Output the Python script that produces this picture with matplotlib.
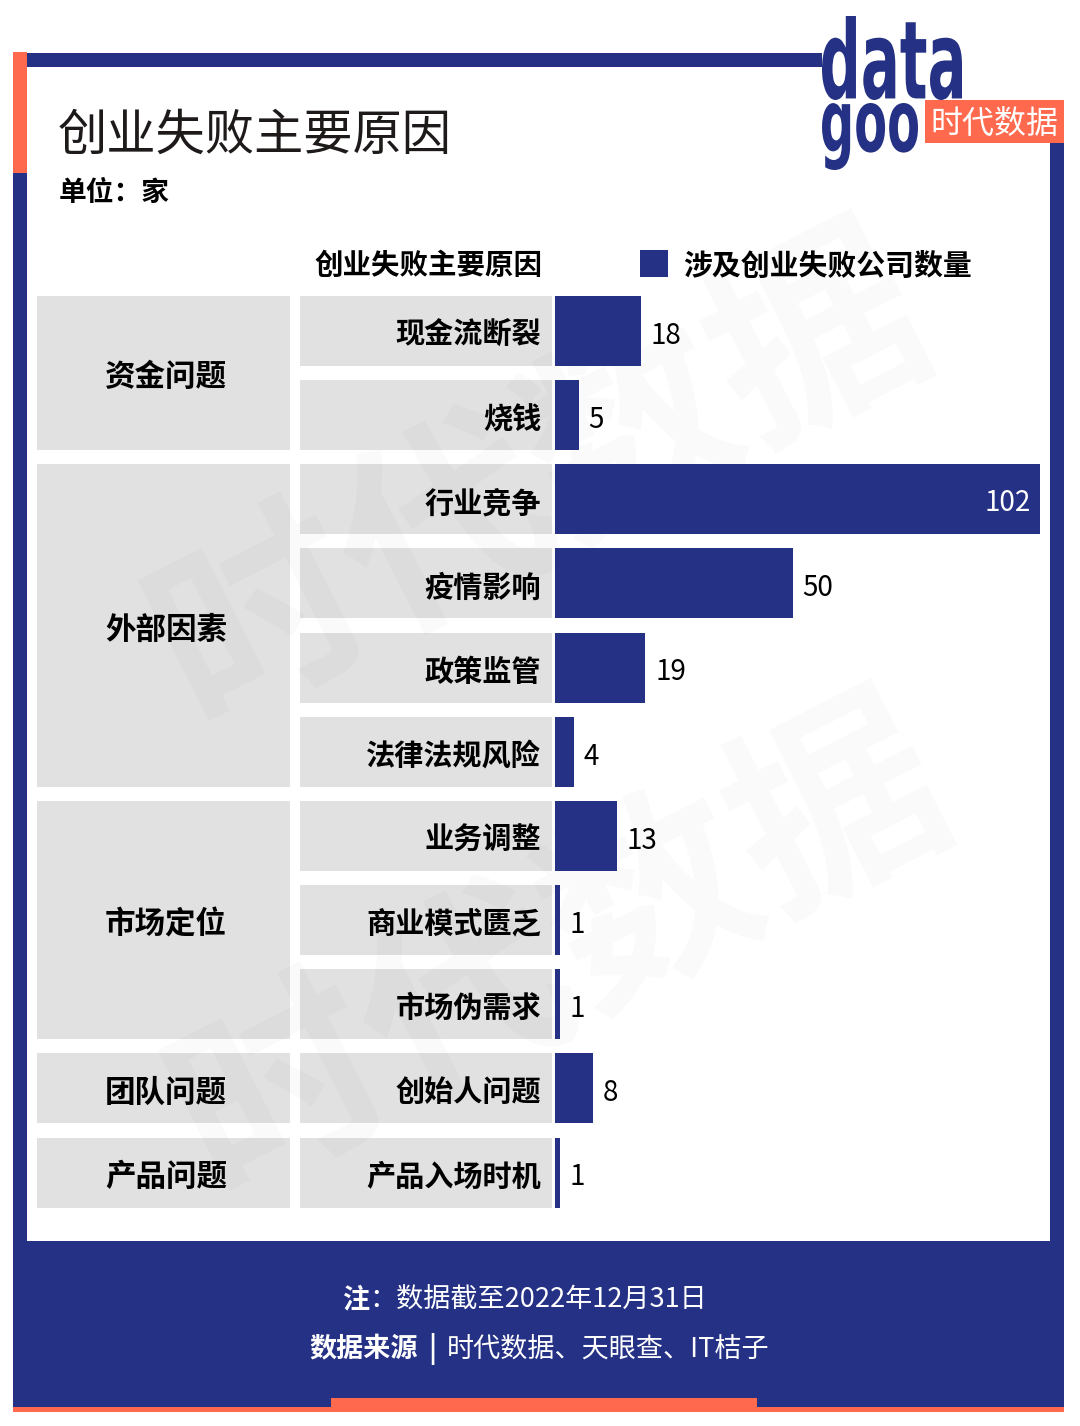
import matplotlib
matplotlib.use("Agg")
import matplotlib.pyplot as plt
from matplotlib.patches import Rectangle, PathPatch
from matplotlib.textpath import TextPath
from matplotlib.font_manager import FontProperties
from matplotlib.transforms import Affine2D

plt.rcParams['font.family'] = ['Noto Sans CJK SC', 'DejaVu Sans']

# ---------------- data ----------------
title = "创业失败主要原因"
unit = "单位：家"
header_left = "创业失败主要原因"
legend_label = "涉及创业失败公司数量"
groups = ["资金问题", "外部因素", "市场定位", "团队问题", "产品问题"]
group_sizes = [2, 4, 3, 1, 1]
reasons = ["现金流断裂", "烧钱", "行业竞争", "疫情影响", "政策监管", "法律法规风险",
           "业务调整", "商业模式匮乏", "市场伪需求", "创始人问题", "产品入场时机"]
counts = [18, 5, 102, 50, 19, 4, 13, 1, 1, 8, 1]
note_bold = "注"
note_text = "：数据截至2022年12月31日"
source_bold = "数据来源"
source_text = "时代数据、天眼查、IT桔子"

NAVY = "#243184"
ORANGE = "#FF6A4E"
GRAY = "#E1E1E1"
DARK = "#1E1A1A"

W, H = 1080, 1426
fig = plt.figure(figsize=(W / 100, H / 100), dpi=100)
fig.patch.set_facecolor("white")

bg = fig.add_axes([0, 0, 1, 1])
bg.set_xlim(0, W)
bg.set_ylim(H, 0)
bg.axis("off")

def rect(x0, y0, x1, y1, color, z=1, **kw):
    bg.add_patch(Rectangle((x0, y0), x1 - x0, y1 - y0, facecolor=color,
                           edgecolor="none", zorder=z, **kw))

# ---------------- frame ----------------
rect(27, 53, 822, 67, NAVY)            # top line
rect(13, 52, 27, 173, ORANGE)          # left orange
rect(13, 173, 27, 1241, NAVY)          # left navy
rect(1050, 143, 1064, 1241, NAVY)      # right navy
rect(13, 1241, 1064, 1407, NAVY)       # bottom box
rect(13, 1407, 1064, 1412, ORANGE)     # bottom orange strip
rect(331, 1398, 757, 1412, ORANGE)     # bottom orange bump

# ---------------- watermark ----------------
for (x, y) in [(540, 480), (560, 950)]:
    bg.text(x, y, "时代数据", fontsize=150, fontweight="bold", color="#000000",
            alpha=0.022, rotation=27, ha="center", va="center", zorder=6)

# ---------------- logo ----------------
def stretched_text(s, x0, y0, x1, y1, color, weight="bold", family="DejaVu Sans"):
    tp = TextPath((0, 0), s, size=100, prop=FontProperties(family=family, weight=weight))
    ext = tp.get_extents()
    sx = (x1 - x0) / ext.width
    sy = (y1 - y0) / ext.height
    tr = Affine2D().translate(-ext.x0, -ext.y0).scale(sx, -sy).translate(x0, y1)
    path = tr.transform_path(tp)
    bg.add_patch(PathPatch(path, facecolor=color, edgecolor="none", zorder=8))

stretched_text("data", 822, 16, 962, 100, NAVY)
stretched_text("goo", 822, 103, 918, 170, NAVY)
rect(925, 100, 1064, 143, ORANGE, z=9)
bg.text(994, 124, "时代数据", fontsize=23, color="white", ha="center", va="center",
        zorder=10)

# ---------------- titles ----------------
bg.text(58, 136, title, fontsize=35.5, color=DARK, ha="left", va="center")
bg.text(59, 193, unit, fontsize=20, fontweight="bold", color="black",
        ha="left", va="center")

bg.text(429, 266, header_left, fontsize=20.5, fontweight="bold", color="black",
        ha="center", va="center")
rect(640, 250, 668, 277, NAVY)
bg.text(683, 266, legend_label, fontsize=20.8, fontweight="bold", color="black",
        ha="left", va="center")

# ---------------- layout of rows ----------------
row0 = 331.0
pitch = 84.15
half = 35.0
dy = 4
centers = [row0 + pitch * i for i in range(len(reasons))]

# subcategory cells
for i, r in enumerate(reasons):
    c = centers[i]
    rect(300, c - half, 552, c + half, GRAY, z=2)
    bg.text(541, c + dy, r, fontsize=21, fontweight="bold", color="black",
            ha="right", va="center", zorder=3)

# category cells
start = 0
for g, n in zip(groups, group_sizes):
    top = centers[start] - half
    bot = centers[start + n - 1] + half
    rect(37, top, 290, bot, GRAY, z=2)
    bg.text(166, (top + bot) / 2 + dy, g, fontsize=22, fontweight="heavy", color="black",
            ha="center", va="center", zorder=3)
    start += n

# ---------------- bars ----------------
x_left, x_right = 555, 1040
y_top = row0 - pitch / 2
y_bot = centers[-1] + pitch / 2
ax = fig.add_axes([x_left / W, 1 - y_bot / H, (x_right - x_left) / W, (y_bot - y_top) / H])
ax.set_xlim(0, max(counts))
ax.set_ylim(len(reasons) - 0.5, -0.5)
ax.axis("off")
ax.patch.set_alpha(0)
ypos = list(range(len(reasons)))
ax.barh(ypos, counts, height=2 * half / pitch, color=NAVY, zorder=3)
vmax = max(counts)
for y, v in zip(ypos, counts):
    if v == vmax:
        ax.annotate(str(v), (v, y), xytext=(-7, -2.5), textcoords="offset points",
                    ha="right", va="center", fontsize=20, color="white", zorder=4)
    else:
        ax.annotate(str(v), (v, y), xytext=(7, -3.5), textcoords="offset points",
                    ha="left", va="center", fontsize=20, color="black", zorder=4)

# ---------------- footer ----------------
bg.text(342, 1299, note_bold, fontsize=19.5, fontweight="bold", color="white",
        ha="left", va="center", zorder=5)
bg.text(369, 1299, note_text, fontsize=19.5, color="white", ha="left", va="center", zorder=5)
bg.text(309, 1349, source_bold, fontsize=19.5, fontweight="bold", color="white",
        ha="left", va="center", zorder=5)
bg.text(432, 1349, "|", fontsize=20, fontweight="bold", color="white",
        ha="center", va="center", zorder=5)
bg.text(447, 1349, source_text, fontsize=19.5, color="white", ha="left", va="center", zorder=5)

fig.savefig("out.png", dpi=100, facecolor="white")
